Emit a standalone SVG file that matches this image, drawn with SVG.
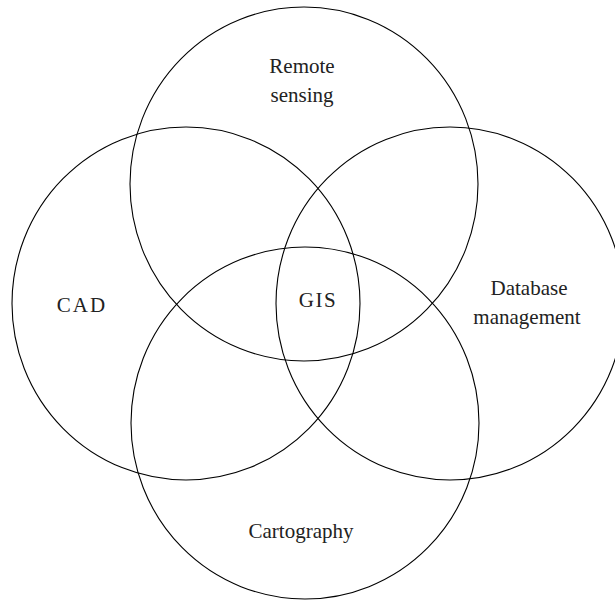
<svg xmlns="http://www.w3.org/2000/svg" width="615" height="600" viewBox="0 0 615 600">
<style>
.c{fill:none;stroke:#000;stroke-width:1.1}
text{font-family:"Liberation Serif","Times New Roman",serif;font-size:21px;fill:#222;text-anchor:middle}
</style>
<rect width="615" height="600" fill="#fff"/>
<g id="circles">
<ellipse id="remote-sensing" class="c" cx="304" cy="184" rx="174" ry="177"/>
<ellipse id="cad" class="c" cx="186" cy="303.5" rx="174" ry="176.5"/>
<ellipse id="database-management" class="c" cx="450" cy="303.5" rx="174" ry="176.5"/>
<ellipse id="cartography" class="c" cx="305" cy="423" rx="174" ry="176"/>
</g>
<g id="labels">
<text x="302" y="73">Remote</text>
<text x="302" y="102">sensing</text>
<text x="82" y="312" letter-spacing="2">CAD</text>
<text x="318" y="307" letter-spacing="1.5">GIS</text>
<text x="529" y="295">Database</text>
<text x="527" y="324">management</text>
<text x="301" y="538">Cartography</text>
</g>
</svg>
